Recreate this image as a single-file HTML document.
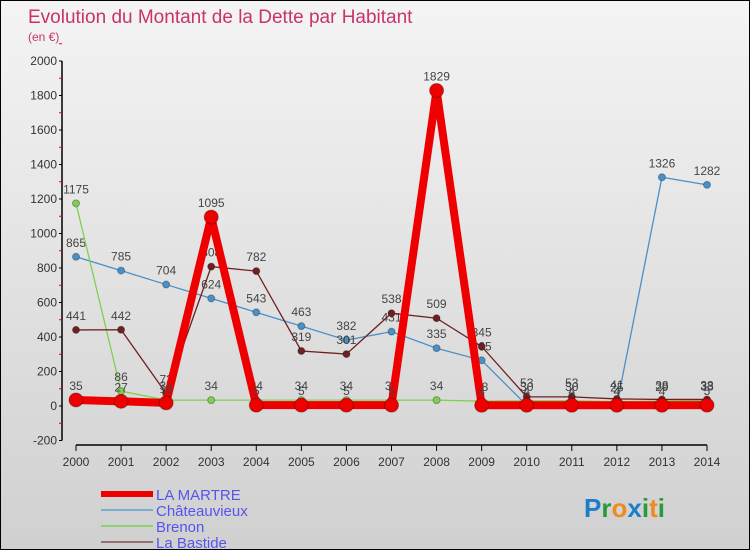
<!DOCTYPE html>
<html><head><meta charset="utf-8"><style>
body{margin:0;}
#wrap{width:750px;height:550px;position:relative;background:linear-gradient(#f4f4f4,#d0d0d0);font-family:"Liberation Sans",sans-serif;overflow:hidden;box-sizing:border-box;border:1px solid #000;}
svg{position:absolute;left:0;top:0;}
</style></head><body>
<div id="wrap">
<svg id="s" width="750" height="550"></svg>
</div>
<script>
const years=[2000,2001,2002,2003,2004,2005,2006,2007,2008,2009,2010,2011,2012,2013,2014];
const laMartre=[35,27,18,1095,5,5,5,5,1829,4,4,4,4,4,5];
const chateauvieux=[865,785,704,624,543,463,382,431,335,265,4,4,4,1326,1282];
const brenon=[1175,86,34,34,34,34,34,34,34,28,30,30,25,29,33];
const laBastide=[441,442,73,808,782,319,301,538,509,345,53,53,41,38,38];
const yTicks=[-200,0,200,400,600,800,1000,1200,1400,1600,1800,2000];
const NS="http://www.w3.org/2000/svg";
const s=document.getElementById('s');
function X(i){return 75+i*(706-75)/14;}
function Y(v){return 405-v*345/2000;}
function el(t,a,p){const e=document.createElementNS(NS,t);for(const k in a)e.setAttribute(k,a[k]);(p||s).appendChild(e);return e;}
let t=el('text',{x:27,y:22,fill:'#c8336e','font-size':19});t.textContent='Evolution du Montant de la Dette par Habitant';

t=el('text',{x:27,y:40,fill:'#c8336e','font-size':12});t.textContent='(en €)';

el('line',{x1:61,y1:Y(2000),x2:61,y2:Y(-200),stroke:'#000','stroke-width':1.5});
el('line',{x1:75,y1:444,x2:706,y2:444,stroke:'#000','stroke-width':1.5});
yTicks.forEach(v=>{el('line',{x1:58,x2:61,y1:Y(v),y2:Y(v),stroke:'#000'});
el('line',{x1:58,x2:61,y1:Y(v+100),y2:Y(v+100),stroke:'#e00'});
const tx=el('text',{x:56,y:Y(v)+4,'text-anchor':'end','font-size':12,fill:'#333'});tx.textContent=v;
});
years.forEach((y,i)=>{el('line',{x1:X(i),x2:X(i),y1:444,y2:450,stroke:'#000'});
const tx=el('text',{x:X(i),y:465,'text-anchor':'middle','font-size':12,fill:'#333'});tx.textContent=y;
});
function series(d,color,w,r,name){
const g=el('g',{});
el('polyline',{points:d.map((v,i)=>X(i)+','+Y(v)).join(' '),fill:'none',stroke:color,'stroke-width':w},g);
d.forEach((v,i)=>{const c=el('circle',{cx:X(i),cy:Y(v),r:r,fill:color,stroke:'rgba(0,0,0,0.3)'},g);

const tx=el('text',{x:X(i),y:Y(v)-10,'text-anchor':'middle','font-size':12,fill:'#444'},g);tx.textContent=v;});
}
series(chateauvieux,'#4a90c8',1.3,3.5,'series-chateauvieux');
series(brenon,'#80d050',1.3,3.5,'series-brenon');
series(laBastide,'#702020',1.3,3.5,'series-la-bastide');
series(laMartre,'#ee0000',8,7,'series-la-martre');
const leg=[['LA MARTRE','#ee0000',6],['Châteauvieux','#7aaed0',2],['Brenon','#90d070',2],['La Bastide','#957070',2]];
leg.forEach((l,i)=>{const y=493+i*16;const g=el('g',{});

el('line',{x1:100,x2:152,y1:y,y2:y,stroke:l[1],'stroke-width':l[2]},g);
const tx=el('text',{x:155,y:y+6,fill:'#5555ee','font-size':15},g);tx.textContent=l[0];});
const lg=el('text',{x:583,y:516,'font-size':26,'font-weight':'bold'});

[['P','#1a7fc8'],['r','#2a9a3a'],['o','#f08a20'],['x','#1a7fc8'],['i','#2a9a3a'],['t','#f08a20'],['i','#2a9a3a']].forEach(c=>{const sp=el('tspan',{fill:c[1]},lg);sp.textContent=c[0];});
</script>
</body></html>
